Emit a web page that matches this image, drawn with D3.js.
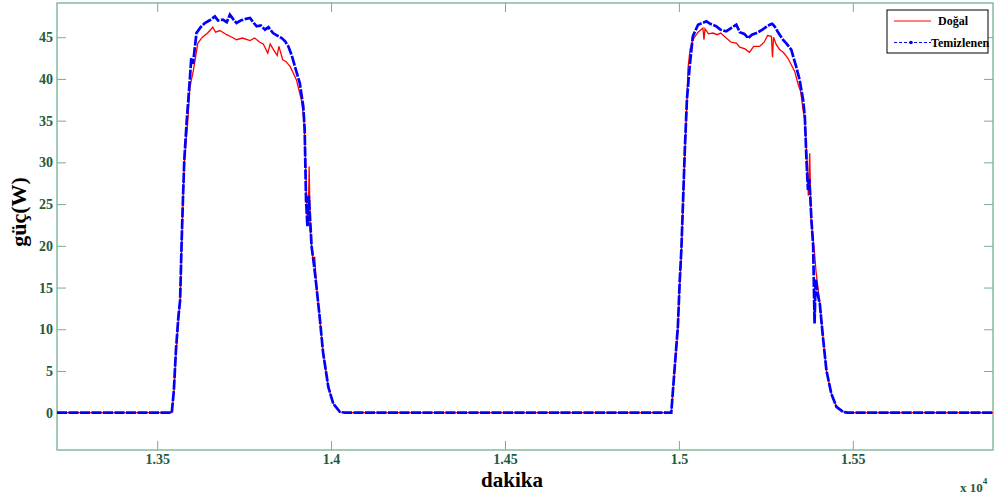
<!DOCTYPE html>
<html>
<head>
<meta charset="utf-8">
<script src="https://cdn.jsdelivr.net/npm/d3@7"></script>
<style>
  body { margin: 0; background: #fff; }
  svg { display: block; }
  .tick text { font-family: "Liberation Serif", serif; font-weight: bold; font-size: 14px; fill: #225a3d; }
</style>
</head>
<body>
<div class="chart"></div>
<script>
// x in dakika (minutes), y in W
var xTicks = [13500, 14000, 14500, 15000, 15500];
var yTicks = [0, 5, 10, 15, 20, 25, 30, 35, 40, 45];

var dogal = [
  [13212,0],[13542,0],[13548,2.5],[13554,7],[13561,11],[13566,13.5],[13570,19.5],[13574,25],[13578,30],
  [13588,35],[13594,39],[13604,41],[13610,42.5],[13617,44.3],[13630,45],[13645,45.5],[13660,46.2],
  [13668,45.6],[13680,45.8],[13700,45.3],[13715,45],[13728,44.7],[13745,44.9],[13767,44.6],[13780,44.9],
  [13795,44.4],[13805,44.2],[13818,43.1],[13825,44.2],[13833,43.6],[13845,42.8],[13850,43.9],[13861,42.3],
  [13870,42.1],[13882,41.5],[13896,40.3],[13901,39.8],[13915,37.4],[13922,35.1],[13926,31],[13930,24.5],
  [13934,22.5],[13937,29.5],[13940,22],[13944,20],[13949,18],[13953,18.7],[13958,15.1],[13968,11.1],
  [13977,7.2],[13992,3.1],[14006,1.1],[14025,0.1],[14040,0],
  [14978,0],[14988,5.2],[14997,10],[15002,15],[15007,19.2],[15012,25],[15017,31],[15023,37],[15026,41.2],
  [15032,43.5],[15040,44.7],[15055,45.6],[15069,46.1],[15072,44.7],[15075,46],[15085,45.4],[15098,45.5],
  [15110,45.3],[15120,45.5],[15136,44.9],[15150,44.4],[15165,44.3],[15175,43.8],[15190,43.6],[15203,43.2],
  [15215,43.9],[15232,43.9],[15245,44.4],[15255,45.2],[15266,45.1],[15269,42.6],[15272,45],[15280,44.1],
  [15290,43.5],[15300,43.2],[15313,42.5],[15323,41.7],[15333,40.9],[15343,39.3],[15350,38.5],[15357,36.3],
  [15362,35.1],[15368,30.5],[15372,26],[15376,31.1],[15380,23],[15385,21],[15390,19.1],[15394,17],
  [15405,13.1],[15414,9.1],[15424,5.1],[15438,2.3],[15453,0.7],[15472,0.1],[15485,0],[15903,0]
];

var temizlenen = [
  [13212,0],[13542,0],[13548,2.7],[13554,7.5],[13561,11.5],[13566,13.5],[13570,20],[13574,25.5],[13578,30.3],
  [13585,35],[13594,40],[13598,42.5],[13603,41.8],[13613,45.5],[13625,46.2],[13637,46.7],[13650,47.0],
  [13666,47.5],[13675,47.0],[13689,47.1],[13700,46.8],[13709,47.7],[13718,47.2],[13728,46.7],[13740,47.0],
  [13755,47.2],[13767,47.3],[13778,46.7],[13786,46.3],[13798,46.4],[13810,45.9],[13820,46.2],[13833,45.5],
  [13845,45.2],[13858,44.9],[13868,44.5],[13877,43.9],[13887,42.8],[13896,41.5],[13910,39.5],[13920,36.7],
  [13924,34],[13928,25.5],[13932,22.3],[13936,26],[13944,19.9],[13950,18],[13958,15.1],[13968,11.1],
  [13977,7.2],[13992,3.1],[14006,1.1],[14025,0.1],[14040,0],
  [14978,0],[14988,5.5],[14997,10.3],[15002,15.5],[15007,19.5],[15012,25.5],[15017,31.5],[15023,37.5],
  [15031,41.5],[15040,45.1],[15055,46.5],[15067,46.7],[15079,46.9],[15090,46.6],[15108,46.3],[15120,45.9],
  [15136,45.7],[15150,46.1],[15165,46.5],[15175,45.6],[15188,45.4],[15199,44.9],[15210,45.3],[15223,45.5],
  [15240,45.9],[15250,46.2],[15261,46.5],[15268,46.6],[15275,46.3],[15285,45.6],[15299,44.7],[15310,44.2],
  [15323,43.5],[15337,41.5],[15347,39.9],[15357,37.5],[15362,35.5],[15367,30],[15371,26.7],[15375,28],
  [15381,23.1],[15386,20],[15390,10.7],[15393,16],[15400,14],[15405,13.1],[15414,9.1],[15424,5.1],
  [15438,2.3],[15453,0.7],[15472,0.1],[15485,0],[15903,0]
];

var W = 1001, H = 503;
var margin = {top: 3, right: 8, bottom: 53, left: 57};
var axisColor = "#74b08f";

var svg = d3.select("div.chart")
            .append("svg")
            .attr("width", W)
            .attr("height", H);

var x = d3.scaleLinear()
          .domain([13212, 15903])
          .range([margin.left, W - margin.right]);

var y = d3.scaleLinear()
          .domain([-4.47, 49.1])
          .range([H - margin.bottom, margin.top]);

var line = d3.line()
             .x(function(d){ return x(d[0]); })
             .y(function(d){ return y(d[1]); });

//axes, ticks inward on all sides
var fmt = function(d){ return d3.format("")(+(d / 1e4).toFixed(2)); };

svg.append("g")
   .attr("transform", "translate(0," + (H - margin.bottom) + ")")
   .call(d3.axisBottom(x).tickValues(xTicks).tickSize(-9).tickPadding(4).tickFormat(fmt))
   .call(function(g){ g.select(".domain").remove(); });

svg.append("g")
   .attr("transform", "translate(0," + margin.top + ")")
   .call(d3.axisTop(x).tickValues(xTicks).tickSize(-9).tickFormat(""))
   .call(function(g){ g.select(".domain").remove(); });

svg.append("g")
   .attr("transform", "translate(" + margin.left + ",0)")
   .call(d3.axisLeft(y).tickValues(yTicks).tickSize(-9).tickPadding(4))
   .call(function(g){ g.select(".domain").remove(); });

svg.append("g")
   .attr("transform", "translate(" + (W - margin.right) + ",0)")
   .call(d3.axisRight(y).tickValues(yTicks).tickSize(-9).tickFormat(""))
   .call(function(g){ g.select(".domain").remove(); });

svg.selectAll(".tick line").attr("stroke", axisColor);

svg.append("rect")
   .attr("x", margin.left)
   .attr("y", margin.top)
   .attr("width", W - margin.left - margin.right)
   .attr("height", H - margin.top - margin.bottom)
   .attr("fill", "none")
   .attr("stroke", axisColor)
   .attr("stroke-width", 1.3);

//series
svg.append("path")
   .datum(dogal)
   .attr("d", line)
   .attr("fill", "none")
   .attr("stroke", "#ff0000")
   .attr("stroke-width", 1.3);

svg.append("path")
   .datum(temizlenen)
   .attr("d", line)
   .attr("fill", "none")
   .attr("stroke", "#0000ff")
   .attr("stroke-width", 2.7)
   .attr("stroke-dasharray", "10,1.5");

//labels
svg.append("text")
   .attr("x", 512)
   .attr("y", 487)
   .attr("text-anchor", "middle")
   .attr("font-family", "Liberation Serif, serif")
   .attr("font-weight", "bold")
   .attr("font-size", 21)
   .text("dakika");

svg.append("text")
   .attr("transform", "translate(26,212) rotate(-90)")
   .attr("text-anchor", "middle")
   .attr("font-family", "Liberation Serif, serif")
   .attr("font-weight", "bold")
   .attr("font-size", 22)
   .text("güç(W)");

var exp = svg.append("text")
   .attr("x", 960)
   .attr("y", 492)
   .attr("font-family", "Liberation Serif, serif")
   .attr("font-weight", "bold")
   .attr("font-size", 13)
   .attr("fill", "#225a3d");
exp.append("tspan").text("x 10");
exp.append("tspan").attr("dy", -8).attr("font-size", 9).text("4");

//legend
var lg = svg.append("g");
lg.append("rect")
  .attr("x", 887).attr("y", 10).attr("width", 101).attr("height", 43)
  .attr("fill", "#fff").attr("stroke", "#000").attr("stroke-width", 1);
lg.append("line")
  .attr("x1", 894).attr("x2", 931).attr("y1", 21).attr("y2", 21)
  .attr("stroke", "#ff0000").attr("stroke-width", 1);
lg.append("line")
  .attr("x1", 894).attr("x2", 931).attr("y1", 42.5).attr("y2", 42.5)
  .attr("stroke", "#0000ff").attr("stroke-width", 1).attr("stroke-dasharray", "3,2");
lg.append("circle")
  .attr("cx", 911).attr("cy", 42.5).attr("r", 1.8).attr("fill", "#0000ff");
lg.append("text")
  .attr("x", 938).attr("y", 25)
  .attr("font-family", "Liberation Serif, serif").attr("font-weight", "bold").attr("font-size", 12)
  .text("Doğal");
lg.append("text")
  .attr("x", 931).attr("y", 46.5)
  .attr("font-family", "Liberation Serif, serif").attr("font-weight", "bold").attr("font-size", 12)
  .text("Temizlenen");
</script>
</body>
</html>
